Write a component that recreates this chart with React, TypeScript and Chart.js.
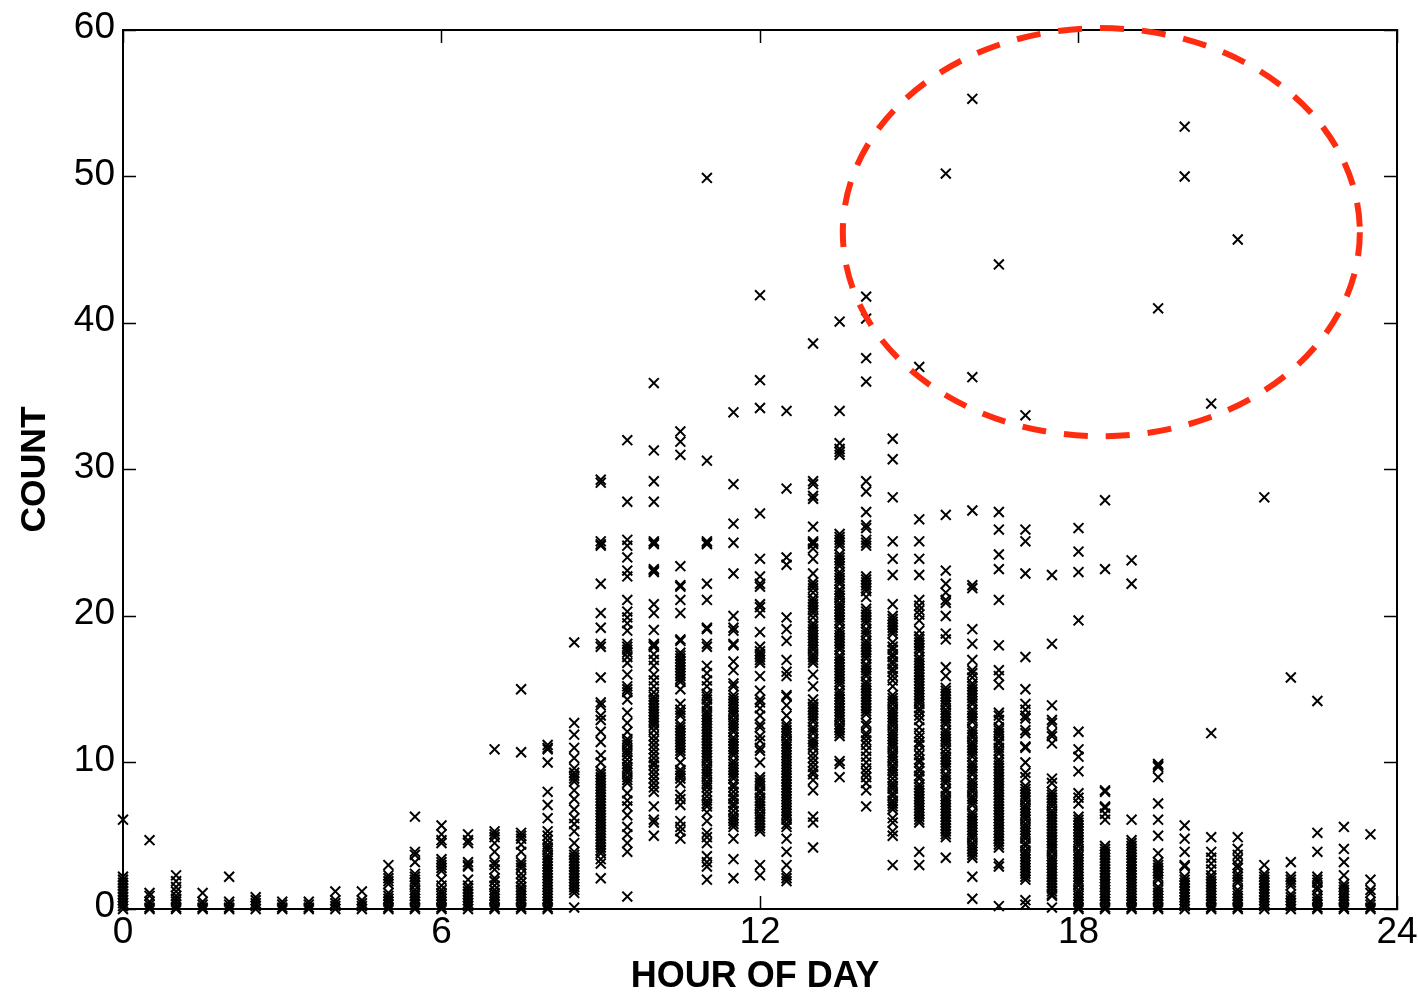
import React, { useEffect, useRef } from "react";
import { Chart, registerables } from "chart.js";

Chart.register(...registerables);

const FONT = "'Liberation Sans', Arial, sans-serif";
const X_TITLE = "HOUR OF DAY";
const Y_TITLE = "COUNT";

const h00 = [6.1,2.2,2.0,1.8,1.6,1.4,1.2,1.0,0.8,0.6,0.4,0.2,0];
const h005 = [4.7,1.1,0.9,0.5,0.3,0.1,0];
const h010 = [2.3,1.9,1.5,1.2,0.9,0.7,0.5,0.3,0.1,0];
const h015 = [1.1,0.5,0.3,0.1,0];
const h020 = [2.2,0.5,0.3,0.1,0];
const h025 = [0.8,0.6,0.4,0.2,0];
const h030 = [0.5,0.3,0.1,0];
const h035 = [0.5,0.3,0.1,0];
const h040 = [1.2,0.6,0.4,0.2,0];
const h045 = [1.2,0.6,0.4,0.2,0];
const h050 = [3.0,2.3,2.1,1.9,1.7,1.1,0.9,0.7,0.5,0.3,0.1,0];
const h055 = [6.3,3.9,3.7,3.2,2.4,2.2,2.0,1.8,1.6,1.3,1.1,0.9,0.7,0.5,0.3,0.1,0];
const h060 = [5.7,5.1,4.7,4.5,3.4,3.2,3.0,2.8,2.6,2.0,1.6,1.3,1.1,0.9,0.7,0.5,0.3,0.1,0];
const h065 = [5.1,4.7,4.5,3.2,3.0,2.9,2.0,1.6,1.4,1.2,1.0,0.8,0.6,0.4,0.2,0];
const h070 = [10.9,5.3,5.1,4.9,4.5,3.9,3.2,3.0,2.7,2.1,1.9,1.6,1.3,1.1,0.9,0.7,0.5,0.3,0.1,0];
const h075 = [15,10.7,5.2,5.0,4.8,4.4,3.9,3.2,3.0,2.8,2.4,2.1,1.8,1.5,1.3,1.1,0.9,0.7,0.5,0.3,0.1,0];
const h080 = [11.2,11.0,10.9,10,8,7.1,6.2,5.3,5.0,4.7,4.4,4.2,4.0,3.7,3.5,3.3,3.1,2.9,2.7,2.5,2.3,2.1,1.9,1.7,1.5,1.3,1.1,0.9,0.7,0.5,0.3,0.1,0];
const h085 = [18.2,12.7,11.9,11.0,10.3,9.6,9.3,9.1,8.9,8.7,8.1,7.5,6.8,6.2,5.8,5.3,4.5,3.9,3.7,3.5,3.3,3.1,2.9,2.7,2.5,2.3,2.1,1.9,1.7,1.5,1.3,1.1,0.1];
const h090 = [29.3,29.1,25.1,24.9,24.8,22.2,20.2,19.2,18.1,17.9,15.8,14.1,13.9,13.2,12.9,12.1,11.4,10.5,10.0,9.4,9.2,9.0,8.8,8.6,8.4,8.2,8.0,7.8,7.6,7.4,7.2,7.0,6.8,6.6,6.4,6.2,6.0,5.8,5.6,5.4,5.2,5.0,4.8,4.6,4.4,4.2,4.0,3.8,3.4,3.1,2.1];
const h095 = [32.0,27.8,25.2,24.8,24.0,23.1,22.7,21.1,20.3,19.9,19.5,19.0,18.1,17.9,17.7,17.5,17.2,16.8,16,15.2,15.0,14.8,14.3,13.4,12.7,12.1,11.6,11.4,11.2,10.9,10.7,10.5,10.2,9.9,9.7,9.5,9.3,9.0,8.8,8.6,7.9,7.4,7,6.4,5.6,5.1,4.5,3.9,0.85];
const h100 = [35.9,31.3,29.2,27.8,25.1,25.0,24.9,23.2,23.1,23,20.8,20.2,19.05,18.1,18,17.9,17.4,17,16.6,16,15.6,15.2,14.8,14.5,14.3,14.1,13.9,13.7,13.5,13.3,13.1,12.9,12.7,12.5,12.2,11.8,11.5,11.2,10.9,10.6,10.3,10,9.8,9.5,9.2,8.9,8.6,8.3,8,7,6.1,5.9,5];
const h105 = [32.6,31.9,31,23.4,22.1,22,21.1,20.2,18.4,18.3,17.5,17.3,17.1,16.9,16.7,16.5,16.3,16.1,15.9,15.7,15.5,15,14,13.6,13.4,13.2,12.6,12.4,12.2,12,11.8,11.6,11.4,11.2,11,10.8,10.6,10,9.5,9.3,9.1,8.9,8.6,7.8,7.5,7.1,6,5.6,5.3,4.8];
const h110 = [49.9,30.6,25.1,25,24.9,22.2,21.1,19.2,19.1,18.1,17.9,16.6,16.1,15.6,15.2,14.7,14.5,14.3,14.0,13.8,13.5,13.3,13.1,12.9,12.7,12.5,12.3,12.1,11.9,11.7,11.5,11.3,11.1,10.9,10.7,10.5,10.3,10.1,9.8,9.6,9.4,9.2,9,8.7,8.5,8.3,8,7.7,7.4,7.2,7,6.6,6,5.2,4.9,4.5,3.6,3.2,2.9,2];
const h115 = [33.9,29.0,26.3,25,22.9,20,19.2,19,18.1,18,16.9,16.3,15.4,15.2,14.6,14.4,14.2,14,13.8,13.6,13.4,13.2,12.9,12.7,12.5,12.3,12.1,11.7,11.5,11.3,11.1,10.9,10.7,10.5,10.1,9.9,9.7,9.5,9.3,9.1,8.9,8.5,8.3,8,7.7,7.5,7.2,7,6.7,6.4,6.2,6,5.8,5.6,4.8,3.4,2.1];
const h120 = [41.9,36.1,34.2,27,23.9,22.7,22.2,22,20.8,20.6,20.2,18.9,17.9,17.6,17.4,17.2,17,16.8,15.9,14.9,14.3,14.1,13.7,13.2,12.6,12.4,11.8,11.5,11,10.8,10,9,8.8,8.6,8.4,8.1,7.9,7.6,7.4,7.2,7,6.8,6.5,6.3,6.1,5.9,5.7,5.5,5.3,3,2.3];
const h125 = [34,28.7,24,23.5,19.9,19.1,18.3,17,16.2,15.9,14.6,14.5,13.9,13.2,12.6,12.4,12.2,12,11.8,11.5,11.3,11.1,10.9,10.7,10.5,10.3,10.1,9.9,9.7,9.5,9.3,9.1,8.9,8.7,8.5,8.3,8.1,7.9,7.7,7.5,7.3,7.1,6.9,6.7,6.5,6.3,6.1,5.8,5.6,4.8,3.9,3,2.3,2.1,1.9];
const h130 = [38.6,29.2,29,28.2,28,26.1,25.1,25,24.9,24.6,23.9,22.9,22.3,22.1,21.9,21.6,21.2,21,20.8,20.6,20.4,20.2,19.9,19.5,19.3,19.1,18.9,18.7,18.5,18.3,18.1,17.9,17.7,17.4,17.2,17,16.8,16,15.2,14.3,14,13.8,13.6,13.4,13.2,13,12.8,12.4,12.2,12,11.6,11.4,11.2,11,10.6,10.3,10,9.7,9.4,9.2,8.8,8.1,6.3,5.9,4.2];
const h135 = [40.1,34,31.8,31.4,31.2,31,25.6,25.4,25.2,25,24.8,24.2,24,23.8,23.6,23.4,23,22.8,22.6,22.4,22.2,21.8,21.6,21.4,21.2,20.9,20.7,20.5,20.3,20.1,19.9,19.7,19.5,19.1,18.9,18.7,18.5,18.3,18.1,17.9,17.7,17.3,17.1,16.9,16.7,16.5,16.3,16.1,15.9,15.7,15.5,15.3,14.9,14.7,14.5,14.3,14.1,13.9,13.7,13.5,13.3,13.1,12.9,12.6,12.4,12.2,12,11.8,10.1,9.9,9];
const h140 = [41.8,40.3,37.6,36,29.2,28.5,27.1,26.2,26,25.2,25,24.8,22.7,22.5,22.3,22.1,21.9,21.7,21.3,20.5,20.3,20.1,19.9,19.7,19.5,19.1,18.9,18.7,18.3,18.1,17.9,17.7,17.5,17.3,17.1,16.7,16.5,16.3,16.1,15.9,15.5,15.3,15.1,14.9,14.7,14.5,14.3,14.1,13.9,13.7,13.5,13.3,12.7,12.5,12,11.8,11.5,11.2,10.8,10.4,10,9.6,9.3,9,8.6,8.1,7];
const h145 = [32.1,30.7,28.1,25.1,23.9,22.8,20.8,20,19.8,19.6,19.4,19.2,19,18.8,18.2,17.9,17.7,17.4,17.2,16.9,16.7,16.4,16.2,15.9,15.6,15.2,14.6,14.4,14.2,14,13.7,13.5,13.3,13.1,12.9,12.7,12.5,12.2,12,11.8,11.6,11.4,11.2,11,10.7,10.5,10.3,10.1,9.8,9.6,9.4,9.2,8.9,8.6,8.4,8.2,7.9,7.7,7.4,7.2,7,6.8,6.2,5.9,5.3,5,3];
const h150 = [37,26.6,25.1,23.9,22.8,21.1,20.7,20.4,20.1,19.7,19,18.6,18.4,18.2,18,17.8,17.6,17.2,17,16.8,16.6,16.4,16.2,16,15.8,15.6,15.4,15.2,15,14.8,14.6,14.4,14.2,14,13.7,13.5,13.2,12.9,12.4,12,11.7,11.4,11.2,10.8,10.5,10.2,10,9.6,9.4,9.1,8.9,8.5,8.3,8.1,7.9,7.7,7.5,7.3,7.1,6.9,6.7,6.5,6.3,6.1,5.9,3.9,3];
const h155 = [50.2,26.9,23.1,22.2,21.6,21.1,20.9,20,18.8,18.4,16.5,15.9,15.1,14.9,14.7,14.5,14.3,14.1,13.9,13.6,13.4,13.2,13,12.8,12.6,12.2,12,11.8,11.6,11.4,11.2,10.9,10.6,10.4,10.2,10,9.8,9.6,9.2,9,8.8,8.6,8.2,8,7.7,7.5,7.3,7.1,6.9,6.7,6.5,6.3,6.1,5.9,5.7,5.5,5.3,5.1,4.9,3.5];
const h160 = [55.3,36.3,27.2,22.1,21.9,19.1,18.1,17,16.3,16.1,15.8,15.4,15.2,15,14.8,14.6,14.4,14.2,14,13.6,13.4,13.2,13,12.8,12.3,12.1,11.9,11.7,11.4,11.2,11,10.8,10.6,10.4,10,9.8,9.6,9.4,9.2,8.8,8.6,8.4,8.2,8,7.7,7.5,7.3,7.1,6.6,6.4,6.2,6,5.8,5.6,5.4,5.2,5,4.8,4.5,4.3,4.1,3.9,3.7,3.5,2.2,0.7];
const h165 = [44,27.1,25.9,24.2,23.2,21.1,18,16.3,15.9,15.3,13.4,13.2,12.9,12.4,12.2,12,11.8,11.5,11.3,11,10.8,10.6,10.2,10,9.8,9.6,9.4,9.2,9,8.8,8.6,8.4,8.2,8,7.8,7.6,7.4,7.2,7,6.8,6.6,6.4,6.2,6,5.8,5.6,5.4,5.2,5,4.8,4.6,4.4,4.2,3.1,2.9,0.2];
const h170 = [33.7,25.9,25.1,22.9,17.2,15,14,13.6,13.2,13,12.2,12,11.1,11,10,9.3,9,8.4,8.2,8,7.8,7.6,7.4,7.1,6.9,6.7,6.5,6.3,6.1,5.8,5.6,5.4,5.2,5,4.8,4.5,4.3,4,3.8,3.6,3.4,3.2,3,2.8,2.6,2.4,2.2,2,0.6,0.3];
const h175 = [22.8,18.1,13.9,12.9,12.7,12,11.8,11.3,8.9,8.6,8,7.8,7.6,7.4,7.2,7,6.7,6.5,6.3,6.1,5.9,5.7,5.5,5.3,5.1,4.9,4.7,4.5,4.3,4.1,3.9,3.6,3.4,3.2,3,2.8,2.6,2.4,2.2,2,1.8,1.6,1.4,1.2,1,0.9,0.1];
const h180 = [26,24.4,23,19.7,12.1,10.9,10.4,9.4,7.9,7.6,7.2,6.3,6.1,5.9,5.7,5.5,5.3,5.1,4.9,4.7,4.5,4.3,4,3.8,3.6,3.4,3.2,3,2.8,2.6,2.4,2.2,2,1.8,1.6,1.3,1.1,0.9,0.7,0.5,0.3,0.1,0];
const h185 = [27.9,23.2,8.1,8,7,6.9,6.5,6.1,4.3,4.1,3.9,3.7,3.5,3.3,3.1,2.9,2.7,2.5,2.3,2.1,1.9,1.7,1.5,1.3,1.1,0.9,0.7,0.5,0.3,0.1,0];
const h190 = [23.8,22.2,6.1,4.7,4.5,4.3,4.1,3.9,3.7,3.5,3.3,3.1,2.9,2.7,2.5,2.3,2.1,1.9,1.7,1.5,1.3,1.1,0.9,0.7,0.5,0.3,0.1,0];
const h195 = [41,9.9,9.8,9.7,9,7.2,6.1,5,3.8,3.2,3,2.8,2.6,2.4,2.2,2,1.5,1.3,1.1,0.9,0.7,0.5,0.3,0.1,0];
const h200 = [53.4,50,5.7,4.8,3.9,3,2.9,2.2,2,1.8,1.6,1.4,1.2,1,0.8,0.6,0.4,0.2,0];
const h205 = [34.5,12,4.9,3.9,3.5,3.1,2.7,2.3,2.1,1.9,1.7,1.5,1.3,1.1,0.9,0.7,0.5,0.3,0.1,0];
const h210 = [45.7,4.9,4.1,3.7,3.4,3,2.8,2.4,2.2,2,1.8,1.3,1.1,0.9,0.7,0.5,0.3,0.1,0];
const h215 = [28.1,3,2.4,2.2,2,1.8,1.6,1.4,1.2,1,0.8,0.6,0.4,0.2,0];
const h220 = [15.8,3.2,2.2,2,1.8,1.6,1,0.8,0.6,0.4,0.2,0];
const h225 = [14.2,5.2,3.9,2.2,2,1.8,1.5,1.3,0.9,0.7,0.5,0.3,0.1,0];
const h230 = [5.6,4.1,3.2,2.3,1.7,1.5,1.3,1.1,0.9,0.7,0.5,0.3,0.1,0];
const h235 = [5.1,2,1.3,1.1,0.5,0.3,0.1,0];

const hours = [
  0,0.5,1,1.5,2,2.5,3,3.5,4,4.5,5,5.5,6,6.5,7,7.5,8,8.5,9,9.5,10,10.5,11,11.5,
  12,12.5,13,13.5,14,14.5,15,15.5,16,16.5,17,17.5,18,18.5,19,19.5,20,20.5,21,21.5,22,22.5,23,23.5,
];
const counts = [
  h00,h005,h010,h015,h020,h025,h030,h035,h040,h045,h050,h055,h060,h065,h070,h075,h080,h085,h090,h095,h100,h105,h110,h115,
  h120,h125,h130,h135,h140,h145,h150,h155,h160,h165,h170,h175,h180,h185,h190,h195,h200,h205,h210,h215,h220,h225,h230,h235,
];

const ellipseCentreHour = 18.43;
const ellipseCentreCount = 46.2;
const ellipseRadiusHours = 4.87;
const ellipseRadiusCount = 13.93;

const annotationPlugin = {
  id: "annotations",
  afterDatasetsDraw(chart: any) {
    const { x, y } = chart.scales;
    const ctx = chart.ctx;
    const cx = x.getPixelForValue(ellipseCentreHour);
    const cy = y.getPixelForValue(ellipseCentreCount);
    const rx = Math.abs(x.getPixelForValue(ellipseCentreHour + ellipseRadiusHours) - cx);
    const ry = Math.abs(y.getPixelForValue(ellipseCentreCount + ellipseRadiusCount) - cy);
    ctx.save();
    ctx.beginPath();
    ctx.ellipse(cx, cy, rx, ry, 0, 0, Math.PI * 2);
    ctx.strokeStyle = "#ff2d10";
    ctx.lineWidth = 6;
    ctx.setLineDash([24, 18]);
    ctx.stroke();
    ctx.setLineDash([]);
    ctx.fillStyle = "#000";
    ctx.font = `bold 36px ${FONT}`;
    ctx.textAlign = "center";
    ctx.textBaseline = "middle";
    ctx.fillText(X_TITLE, x.getPixelForValue(12) - 5, 977);
    ctx.restore();
  },
};

const tickFont = { family: FONT, size: 37 };
const gridBase = {
  display: true,
  drawOnChartArea: false,
  drawTicks: true,
  tickLength: -13,
  tickWidth: 1.5,
  tickColor: "#000",
};
const borderBase = { display: true, color: "#000", width: 2 };
const noPadding = (s: any) => {
  s.paddingLeft = 0;
  s.paddingRight = 0;
  s.paddingTop = 0;
  s.paddingBottom = 0;
};

export default function App() {
  const ref = useRef<HTMLCanvasElement>(null);
  useEffect(() => {
    const data: { x: number; y: number }[] = [];
    hours.forEach((h, i) => counts[i].forEach((c) => data.push({ x: h, y: c })));
    const chart = new Chart(ref.current!, {
      type: "scatter",
      data: {
        datasets: [
          {
            label: "count",
            data,
            pointStyle: "crossRot",
            pointRadius: 7,
            pointBorderWidth: 2,
            pointBorderColor: "#000",
            pointBackgroundColor: "#000",
            clip: false as any,
          },
        ],
      },
      options: {
        animation: false,
        responsive: false,
        layout: { padding: 0 },
        plugins: { legend: { display: false }, tooltip: { enabled: false } },
        scales: {
          x: {
            type: "linear",
            position: "bottom",
            min: 0,
            max: 24,
            afterFit: (s: any) => { s.height = 83; noPadding(s); },
            grid: gridBase,
            border: borderBase,
            ticks: { stepSize: 6, maxRotation: 0, autoSkip: false, padding: 15, color: "#000", font: tickFont },
          },
          y: {
            type: "linear",
            position: "left",
            min: 0,
            max: 60,
            afterFit: (s: any) => { s.width = 123; noPadding(s); },
            grid: gridBase,
            border: borderBase,
            ticks: { stepSize: 10, padding: 21, labelOffset: -2, color: "#000", font: tickFont },
            title: {
              display: true,
              text: Y_TITLE,
              color: "#000",
              font: { family: FONT, size: 35.5, weight: "bold", lineHeight: 1 },
              padding: { top: 17, bottom: 0 },
            },
          },
          xTop: {
            type: "linear",
            position: "top",
            min: 0,
            max: 24,
            afterFit: (s: any) => { s.height = 30; noPadding(s); },
            grid: gridBase,
            border: borderBase,
            ticks: { stepSize: 6, display: false },
          },
          yRight: {
            type: "linear",
            position: "right",
            min: 0,
            max: 60,
            afterFit: (s: any) => { s.width = 21; noPadding(s); },
            grid: gridBase,
            border: borderBase,
            ticks: { stepSize: 10, display: false },
          },
        },
      },
      plugins: [annotationPlugin],
    } as any);
    return () => chart.destroy();
  }, []);
  return (
    <div style={{ position: "absolute", left: 0, top: 0, width: 1418, height: 992, background: "#fff" }}>
      <canvas ref={ref} width={1418} height={992} style={{ display: "block" }} />
    </div>
  );
}
